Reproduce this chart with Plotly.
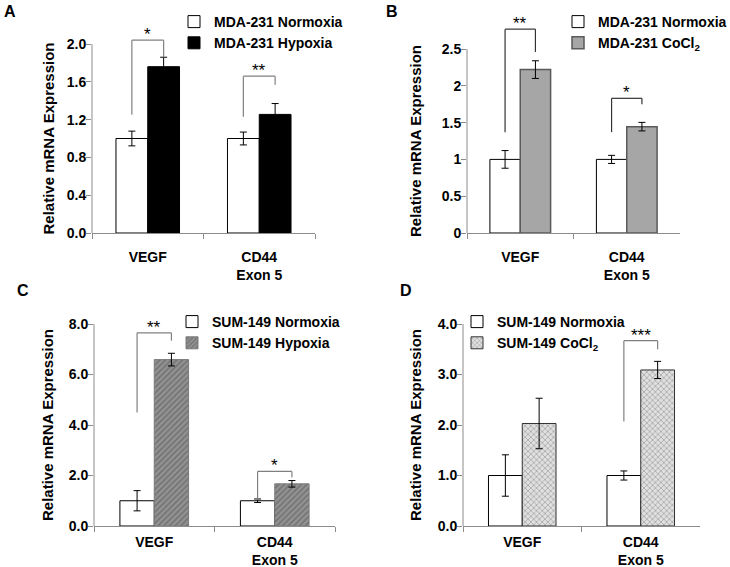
import plotly.graph_objects as go

W, H = 730, 567

# ---------------- data ----------------
genes = ["VEGF", "CD44<br>Exon 5"]

# Panel A
a_series = ["MDA-231 Normoxia", "MDA-231 Hypoxia"]
a_norm = [1.00, 1.00]
a_norm_err = [0.078, 0.068]
a_hyp = [1.76, 1.255]
a_hyp_err = [0.10, 0.115]
a_ticks = [0.0, 0.4, 0.8, 1.2, 1.6, 2.0]
a_ticktext = ["0.0", "0.4", "0.8", "1.2", "1.6", "2.0"]
# brackets: (category index, left bottom, top, right bottom, stars)
a_sig = [(0, 1.25, 2.04, 1.86, "*"), (1, 1.23, 1.66, 1.57, "**")]

# Panel B
b_series = ["MDA-231 Normoxia", "MDA-231 CoCl<sub>2</sub>"]
b_norm = [1.00, 1.00]
b_norm_err = [0.12, 0.055]
b_cocl = [2.22, 1.445]
b_cocl_err = [0.12, 0.058]
b_ticks = [0, 0.5, 1, 1.5, 2, 2.5]
b_ticktext = ["0", "0.5", "1", "1.5", "2", "2.5"]
b_sig = [(0, 1.37, 2.77, 2.46, "**"), (1, 1.37, 1.83, 1.75, "*")]

# Panel C
c_series = ["SUM-149 Normoxia", "SUM-149 Hypoxia"]
c_norm = [1.00, 1.00]
c_norm_err = [0.40, 0.07]
c_hyp = [6.59, 1.67]
c_hyp_err = [0.25, 0.13]
c_ticks = [0.0, 2.0, 4.0, 6.0, 8.0]
c_ticktext = ["0.0", "2.0", "4.0", "6.0", "8.0"]
c_sig = [(0, 4.5, 7.65, 7.34, "**"), (1, 1.03, 2.16, 1.93, "*")]

# Panel D
d_series = ["SUM-149 Normoxia", "SUM-149 CoCl<sub>2</sub>"]
d_norm = [1.00, 1.00]
d_norm_err = [0.41, 0.09]
d_cocl = [2.03, 3.09]
d_cocl_err = [0.50, 0.17]
d_ticks = [0.0, 1.0, 2.0, 3.0, 4.0]
d_ticktext = ["0.0", "1.0", "2.0", "3.0", "4.0"]
d_sig = [(1, 2.07, 3.67, 3.50, "***")]

# ---------------- layout helpers ----------------
FONT = "Arial, Liberation Sans, sans-serif"
AX_GRAY = "#8c8c8c"
BARGAP = 0.43
OFF = (1 - BARGAP) / 4.0  # bar center offset from category center


def px_x(p):
    return p / W


def px_y(p):
    return 1 - p / H


panels = [
    dict(n=1, series=a_series, vals=(a_norm, a_hyp), errs=(a_norm_err, a_hyp_err),
         ticks=a_ticks, ticktext=a_ticktext, sig=a_sig, x0=92, x1=315, yb=233, yt=44,
         ymax=2.0, rtop=2.2, letter="A", lx=10, ly=11, titlex=48, legx=174, legy=6, xstand=11,
         m2=dict(color="#000000", line=dict(color="#000000", width=1)), brk="#808080"),
    dict(n=2, series=b_series, vals=(b_norm, b_cocl), errs=(b_norm_err, b_cocl_err),
         ticks=b_ticks, ticktext=b_ticktext, sig=b_sig, x0=467, x1=680, yb=233, yt=49,
         ymax=2.5, rtop=2.95, letter="B", lx=392, ly=11, titlex=415, legx=558, legy=6, xstand=11,
         m2=dict(color="#a6a6a6", line=dict(color="#5a5a5a", width=1.5)), brk="#333333"),
    dict(n=3, series=c_series, vals=(c_norm, c_hyp), errs=(c_norm_err, c_hyp_err),
         ticks=c_ticks, ticktext=c_ticktext, sig=c_sig, x0=94, x1=335, yb=526, yt=324,
         ymax=8.0, rtop=8.0, letter="C", lx=23, ly=290, titlex=47, legx=172, legy=306, xstand=3,
         m2=dict(color="#909090", line=dict(color="#7a7a7a", width=1),
                 pattern=dict(shape="/", fgcolor="#6e6e6e", bgcolor="#929292", size=4, solidity=0.35)),
         brk="#808080"),
    dict(n=4, series=d_series, vals=(d_norm, d_cocl), errs=(d_norm_err, d_cocl_err),
         ticks=d_ticks, ticktext=d_ticktext, sig=d_sig, x0=463, x1=700, yb=526, yt=324,
         ymax=4.0, rtop=4.0, letter="D", lx=406, ly=290, titlex=415, legx=457, legy=306, xstand=3,
         m2=dict(color="#d0d0d0", line=dict(color="#333333", width=1),
                 pattern=dict(shape="x", fgcolor="#9a9a9a", bgcolor="#e0e0e0", size=4, solidity=0.3)),
         brk="#808080"),
]

fig = go.Figure()
shapes = []
annotations = []
layout = dict(
    template="none",
    width=W, height=H, margin=dict(l=0, r=0, t=0, b=0, pad=0, autoexpand=False),
    paper_bgcolor="white", plot_bgcolor="white",
    barmode="group", bargap=BARGAP, bargroupgap=0,
    font=dict(family=FONT, size=14, color="#000000"),
)

for p in panels:
    n = p["n"]
    xs = "" if n == 1 else str(n)
    xa, ya = "x" + xs, "y" + xs
    lg = "legend" + xs
    m1 = dict(color="#ffffff", line=dict(color="#000000", width=1))
    for k, (vals, errs, mk) in enumerate(zip(p["vals"], p["errs"], (m1, p["m2"]))):
        fig.add_trace(go.Bar(
            x=genes, y=vals, name=p["series"][k], xaxis=xa, yaxis=ya, legend=lg,
            marker=mk,
            error_y=dict(type="data", array=errs, visible=True, color="#000000",
                         thickness=1, width=3.5),
        ))
    pxunit = (p["yb"] - p["yt"]) / p["ymax"]
    top_px = p["yb"] - p["rtop"] * pxunit
    layout["xaxis" + xs] = dict(
        domain=[px_x(p["x0"]), px_x(p["x1"])], anchor=ya, type="category",
        categoryorder="array", categoryarray=genes, range=[-0.5, 1.5],
        tickson="boundaries", ticks="outside", ticklen=5, tickcolor=AX_GRAY, tickwidth=1,
        showline=True, linecolor=AX_GRAY, linewidth=1, showgrid=False, zeroline=False,
        automargin=False, ticklabelstandoff=p["xstand"],
        tickfont=dict(family=FONT, size=14, color="#000000", weight="bold"),
    )
    layout["yaxis" + xs] = dict(
        domain=[px_y(p["yb"]), px_y(top_px)], anchor=xa, range=[0, p["rtop"]],
        tickvals=p["ticks"], ticktext=p["ticktext"], ticks="outside", ticklen=5,
        tickcolor=AX_GRAY, tickwidth=1, showline=False, showgrid=False, zeroline=False,
        automargin=False, ticklabelstandoff=-3,
        tickfont=dict(family=FONT, size=14, color="#000000", weight="bold"),
    )
    # y axis line from 0 to top tick
    shapes.append(dict(type="line", xref=xa + " domain", yref=ya, x0=0, x1=0,
                       y0=0, y1=p["ymax"], line=dict(color=AX_GRAY, width=1)))
    # significance brackets
    for (ci, lb, tp, rb, st) in p["sig"]:
        xl, xr = ci - OFF, ci + OFF
        for (x0, y0, x1, y1) in [(xl, lb, xl, tp), (xl, tp, xr, tp), (xr, tp, xr, rb)]:
            shapes.append(dict(type="line", xref=xa, yref=ya, x0=x0, y0=y0, x1=x1, y1=y1,
                               line=dict(color=p["brk"], width=1.2)))
        annotations.append(dict(xref=xa, yref=ya, x=ci, y=tp, text=st, showarrow=False,
                                yanchor="bottom", yshift=-6,
                                font=dict(family=FONT, size=17, color="#000000")))
    # y title
    annotations.append(dict(xref="paper", yref=ya, x=px_x(p["titlex"]), y=p["ymax"] / 2,
                            text="Relative mRNA Expression", textangle=-90, showarrow=False,
                            xanchor="center", yanchor="middle",
                            font=dict(family=FONT, size=15, color="#000000", weight="bold")))
    # panel letter
    annotations.append(dict(xref="paper", yref="paper", x=px_x(p["lx"]), y=px_y(p["ly"]),
                            text=p["letter"], showarrow=False, xanchor="center", yanchor="middle",
                            font=dict(family=FONT, size=16, color="#000000", weight="bold")))
    layout[lg] = dict(x=px_x(p["legx"]), y=px_y(p["legy"]), xanchor="left", yanchor="top",
                      bgcolor="rgba(0,0,0,0)", borderwidth=0, tracegroupgap=0,
                      itemclick=False, itemdoubleclick=False,
                      font=dict(family=FONT, size=14, color="#000000", weight="bold"))

layout["shapes"] = shapes
layout["annotations"] = annotations
fig.update_layout(**layout)
fig.write_html("out.html", config={"displayModeBar": False},
               post_script="document.body.style.margin='0';document.body.style.overflow='hidden';")
